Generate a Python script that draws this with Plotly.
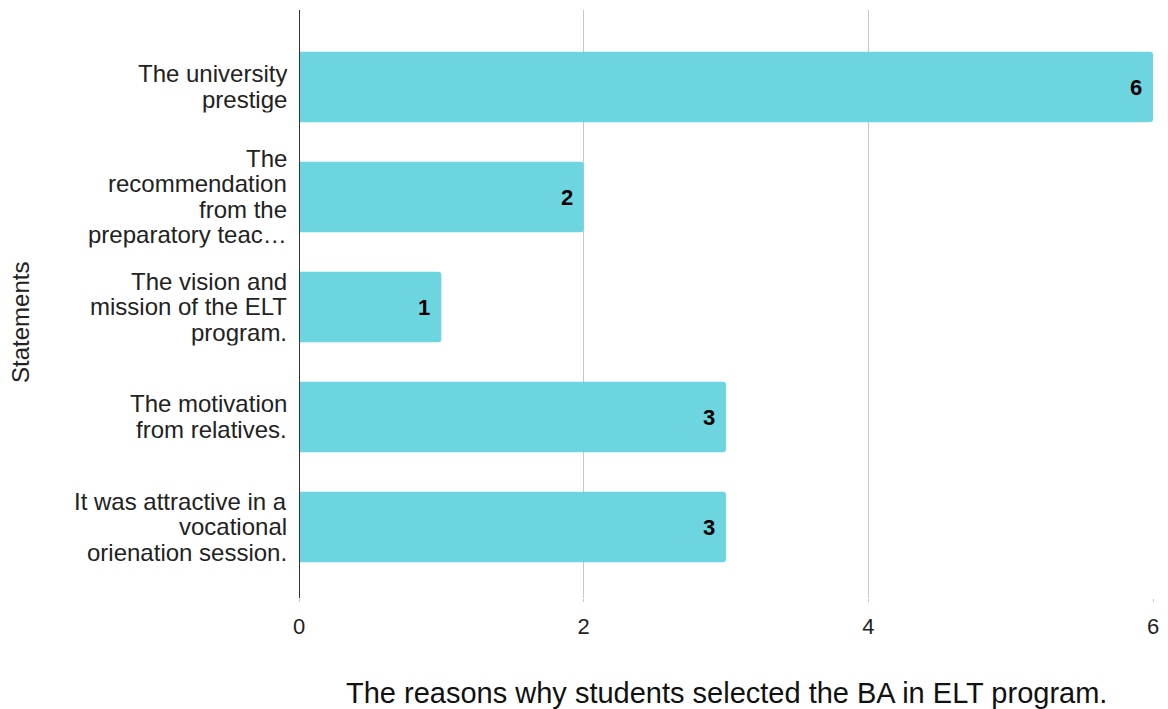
import plotly.graph_objects as go

# Survey statements (top to bottom) and how many students chose each
statements = [
    "The university\nprestige",
    "The\nrecommendation\nfrom the\npreparatory teac…",
    "The vision and\nmission of the ELT\nprogram.",
    "The motivation\nfrom relatives.",
    "It was attractive in a\nvocational\norienation session.",
]
counts = [6, 2, 1, 3, 3]
x_ticks = [0, 2, 4, 6]

x_title = "The reasons why students selected the BA in ELT program."
y_title = "Statements"

FONT = "Liberation Sans, Arial, sans-serif"
BAR_COLOR = "#6dd5e0"
LINE_STEP = 25.5  # pixel spacing between lines of a wrapped category label

fig = go.Figure(
    go.Bar(
        x=counts,
        y=statements,
        orientation="h",
        width=0.64,
        marker=dict(color=BAR_COLOR, line=dict(width=0), cornerradius=3),
        hoverinfo="x+y",
    )
)

annotations = []
# wrapped category labels, one annotation per line, right-aligned to the axis
for cat in statements:
    lines = cat.split("\n")
    n = len(lines)
    for k, line in enumerate(lines):
        annotations.append(dict(
            x=0, xref="paper", y=cat, yref="y",
            text=line, showarrow=False,
            xanchor="right", yanchor="middle", xshift=-10,
            yshift=((n - 1) / 2 - k) * LINE_STEP,
            height=LINE_STEP, valign="middle",
            font=dict(family=FONT, size=24, color="#222222"),
        ))
# value labels at the end of each bar
for cat, v in zip(statements, counts):
    annotations.append(dict(
        x=v, xref="x", y=cat, yref="y",
        text=str(v), showarrow=False,
        xanchor="right", yanchor="middle", xshift=-9,
        font=dict(family=FONT, size=22, color="#000000", weight="bold"),
    ))
# axis titles
annotations.append(dict(
    x=0.5, xref="paper", y=0, yref="paper", yshift=-95,
    text=x_title, showarrow=False, xanchor="center", yanchor="middle",
    font=dict(family=FONT, size=29, color="#111111"),
))
annotations.append(dict(
    x=0, xref="paper", y=0.5, yref="paper", xshift=-279, yshift=-19,
    text=y_title, showarrow=False, textangle=-90,
    xanchor="center", yanchor="middle",
    font=dict(family=FONT, size=24, color="#222222"),
))

fig.update_layout(
    width=1168, height=709,
    margin=dict(l=299, r=15, t=10, b=111),
    paper_bgcolor="white", plot_bgcolor="white",
    showlegend=False,
    annotations=annotations,
    xaxis=dict(
        range=[0, 6], tickvals=x_ticks, ticktext=[str(t) for t in x_ticks],
        showgrid=True, gridcolor="#c8c8c8", gridwidth=1,
        zeroline=False, showline=False,
        ticks="outside", ticklen=3, tickcolor="#c8c8c8",
        ticklabelstandoff=6,
        tickfont=dict(family=FONT, size=22, color="#222222"),
        fixedrange=True,
    ),
    yaxis=dict(
        categoryorder="array", categoryarray=statements,
        range=[4.645, -0.7],
        showticklabels=False, showgrid=False, zeroline=False,
        showline=False, ticks="",
        fixedrange=True,
    ),
    shapes=[dict(
        type="line", xref="x", yref="paper", x0=0, x1=0, y0=0, y1=1,
        line=dict(color="#333333", width=2),
    )],
)

fig.write_html("out.html")
